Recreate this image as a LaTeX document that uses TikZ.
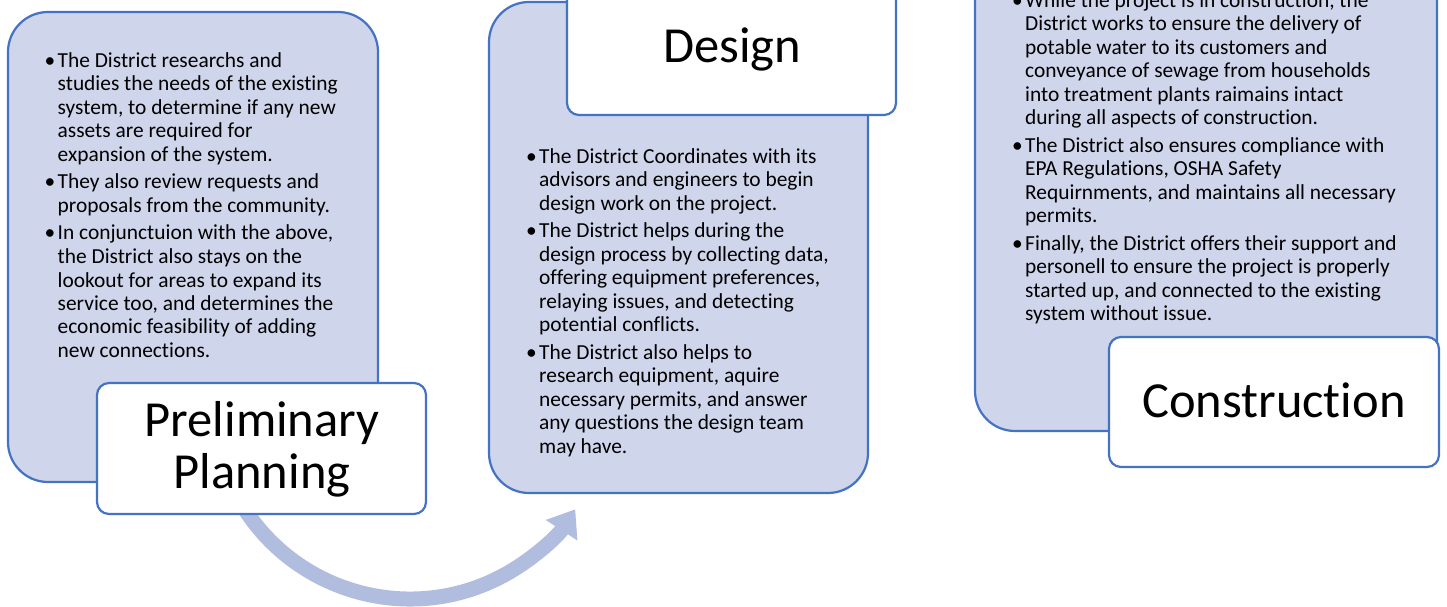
\documentclass[tikz,border=0pt]{standalone}
\usepackage{fontspec}
\setmainfont{Carlito}[Ligatures=NoCommon]
\usetikzlibrary{arrows.meta}
\definecolor{bfill}{RGB}{207,213,234}
\definecolor{bline}{RGB}{68,114,196}
\definecolor{arrowc}{RGB}{177,189,222}
\newcommand{\bul}{\llap{\textbullet\hspace{2.5pt}}}
\begin{document}
\begin{tikzpicture}[x=1pt,y=-1pt,
  panel/.style={draw=bline, fill=bfill, line width=2.2pt, rounded corners=40pt},
  labelbox/.style={draw=bline, fill=white, line width=2.2pt, rounded corners=12pt},
  labeltext/.style={align=center, inner sep=0pt, font=\fontsize{50.5pt}{52pt}\selectfont},
  bodytext/.style={anchor=base west, inner sep=0pt, font=\fontsize{21.4pt}{23.5pt}\selectfont},
  flow/.style={draw=arrowc, line width=15pt, -{Triangle[length=25pt,width=36pt]}}]
\useasboundingbox (0,0) rectangle (1447,607);
% panels
\draw[panel] (8,12) rectangle (378,482);
\draw[panel] (489,2) rectangle (868,493);
\draw[panel] (975,-60) rectangle (1437,431);
% curved arrow
\coordinate (arcc) at (410,402);
\draw[flow] ([shift={(150:197)}]arcc) arc[start angle=150, end angle=33, radius=197];
% label boxes
\draw[labelbox] (97,383) rectangle (426,514);
\draw[labelbox] (567,-30) rectangle (896,115);
\draw[labelbox] (1109,337) rectangle (1439,467);
\node[labeltext] (pp) at (262,449) {Preliminary\\Planning};
\node[labeltext, anchor=base] (de) at (732,63) {Design};
\node[labeltext, anchor=base] (co) at (1274,417) {Construction};
% body texts
\node[bodytext] (t1) at (57.5,67.5) {\begin{tabular}[t]{@{}l@{}}
\bul The District researchs and\\
studies the needs of the existing\\
system, to determine if any new\\
assets are required for\\
expansion of the system.\\[4pt]
\bul They also review requests and\\
proposals from the community.\\[4pt]
\bul In conjunctuion with the above,\\
the District also stays on the\\
lookout for areas to expand its\\
service too, and determines the\\
economic feasibility of adding\\
new connections.
\end{tabular}};
\node[bodytext] (t2) at (539,163) {\begin{tabular}[t]{@{}l@{}}
\bul The District Coordinates with its\\
advisors and engineers to begin\\
design work on the project.\\[4pt]
\bul The District helps during the\\
design process by collecting data,\\
offering equipment preferences,\\
relaying issues, and detecting\\
potential conflicts.\\[4pt]
\bul The District also helps to\\
research equipment, aquire\\
necessary permits, and answer\\
any questions the design team\\
may have.
\end{tabular}};
\node[bodytext] (t3) at (1025,7.5) {\begin{tabular}[t]{@{}l@{}}
\bul While the project is in construction, the\\
District works to ensure the delivery of\\
potable water to its customers and\\
conveyance of sewage from households\\
into treatment plants raimains intact\\
during all aspects of construction.\\[4pt]
\bul The District also ensures compliance with\\
EPA Regulations, OSHA Safety\\
Requirnments, and maintains all necessary\\
permits.\\[4pt]
\bul Finally, the District offers their support and\\
personell to ensure the project is properly\\
started up, and connected to the existing\\
system without issue.
\end{tabular}};
\end{tikzpicture}
\end{document}
